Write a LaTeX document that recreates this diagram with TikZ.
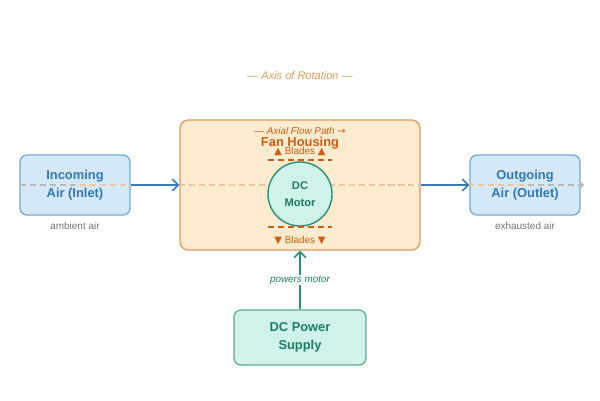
\documentclass[tikz,border=0pt]{standalone}
\usepackage{fontspec}
\setmainfont{Liberation Sans}
\newfontfamily\symfont{DejaVu Sans}
\usetikzlibrary{positioning,arrows.meta}

\definecolor{airfill}{HTML}{D4E8F7}
\definecolor{airdraw}{HTML}{74AAD6}
\definecolor{airtext}{HTML}{2E78B5}
\definecolor{flowarrow}{HTML}{3A7AAE}
\definecolor{housefill}{HTML}{FDEBD0}
\definecolor{housedraw}{HTML}{DE9A5C}
\definecolor{housetext}{HTML}{CC5F10}
\definecolor{axiscol}{HTML}{F0C49C}
\definecolor{motorfill}{HTML}{D0F2EA}
\definecolor{motordraw}{HTML}{2A8F76}
\definecolor{motortext}{HTML}{1B7F66}
\definecolor{notegrey}{HTML}{777777}

\begin{document}
\begin{tikzpicture}[x=0.03cm, y=-0.03cm, align=center]
  \tikzstyle{airbox} = [rectangle, draw=airdraw, line width=1.1pt, fill=airfill, rounded corners=6pt, minimum width=3.3cm, minimum height=1.8cm, inner sep=0pt]
  \tikzstyle{airlabel} = [text=airtext, font=\fontsize{11}{15}\selectfont\bfseries]
  \tikzstyle{note} = [text=notegrey, font=\fontsize{8.5}{10}\selectfont]
  \tikzstyle{flow} = [-{Straight Barb[length=5pt, width=10pt, line width=1.4pt]}, line width=1.5pt, flowarrow]
  \tikzstyle{dashes} = [dash pattern=on 5pt off 3.5pt, line width=1.2pt]
  \tikzstyle{bladeline} = [dashes, housetext]
  \tikzstyle{blades} = [text=housetext, font=\fontsize{8.5}{10}\selectfont]

  \useasboundingbox (0,0) rectangle (600,400);

  \node[text=housedraw, font=\fontsize{9.4}{11}\selectfont\itshape] (axislabel) at (300,76) {— Axis of Rotation —};

  \node[rectangle, draw=housedraw, line width=1.1pt, fill=housefill, rounded corners=7pt, minimum width=7.2cm, minimum height=3.9cm] (housing) at (300,185) {};
  \node[airbox] (inlet) at (75,185) {};
  \node[airbox] (outlet) at (525,185) {};

  % axis and air through the fan
  \coordinate (axisL) at (20,185);
  \coordinate (axisR) at (584,185);
  \draw[dashes, gray!55, -{Straight Barb[length=3.5pt, width=7pt, line width=1.2pt]}] (axisL) -- (axisR);
  \draw[dashes, dash phase=4.25pt, axiscol] (inlet.center) -- (outlet.center);

  \node[airlabel] (inlettext) at (inlet) {Incoming\\Air (Inlet)};
  \node[airlabel] (outlettext) at (outlet) {Outgoing\\Air (Outlet)};
  \node[note] (inletnote) at (75,226) {ambient air};
  \node[note] (outletnote) at (525,226) {exhausted air};

  % inside the housing
  \node[text=housetext, font=\fontsize{8.4}{10}\selectfont\itshape] (flowpath) at (300,131) {— Axial Flow Path {\symfont→}};
  \node[text=housetext, font=\fontsize{11}{13}\selectfont\bfseries] (title) at (300,143) {Fan Housing};
  \node[blades] (bladestop) at (300,152) {{\symfont▲}\ Blades\ {\symfont▲}};
  \node[circle, draw=motordraw, line width=1.2pt, fill=motorfill, minimum size=1.92cm, inner sep=0pt, text=motortext, font=\fontsize{9.5}{14}\selectfont\bfseries] (motor) at (300,194) {DC\\Motor};
  \node[blades] (bladesbot) at (300,241) {{\symfont▼}\ Blades\ {\symfont▼}};
  \draw[bladeline] (268,160) -- (332,160);
  \draw[bladeline] (268,227) -- (332,227);

  \node[rectangle, draw=motordraw!75, line width=1.1pt, fill=motorfill, rounded corners=6pt, minimum width=3.96cm, minimum height=1.65cm, inner sep=0pt, text=motortext, font=\fontsize{11}{15}\selectfont\bfseries] (supply) at (300,337.5) {DC Power\\Supply};

  \draw[flow] (inlet) -- (housing);
  \draw[flow] (housing) -- (outlet);
  \draw[flow, motordraw] (supply) -- node[fill=white, inner sep=1pt, text=motortext, font=\fontsize{8.4}{10}\selectfont\itshape] (powerlabel) {powers motor} (housing);
\end{tikzpicture}
\end{document}
